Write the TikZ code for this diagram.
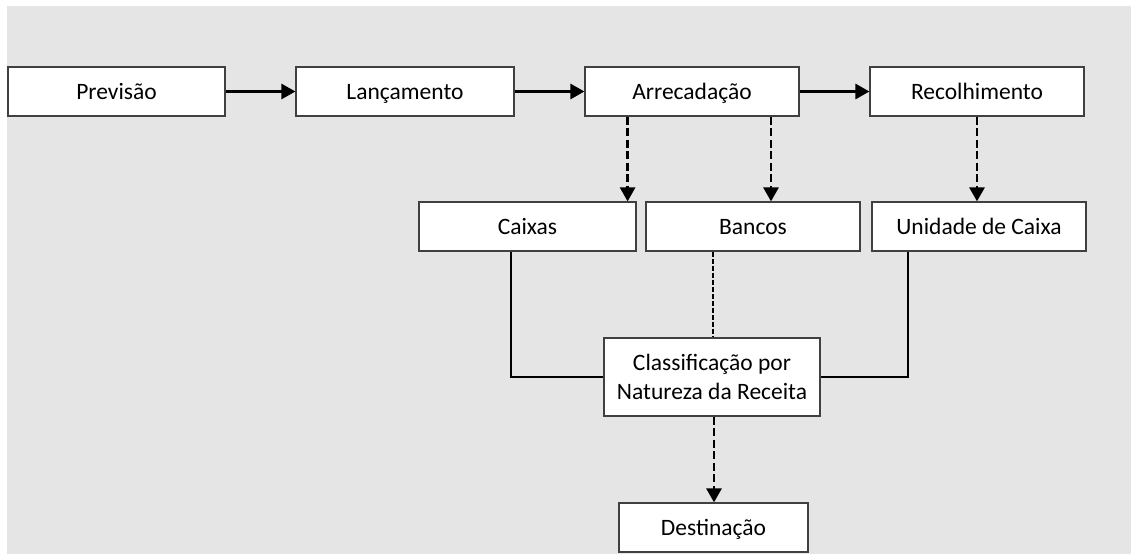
\documentclass[tikz,border=0pt]{standalone}
\usepackage{fontspec}
\setmainfont{Carlito}
\usetikzlibrary{arrows.meta}
\begin{document}
\begin{tikzpicture}[x=1pt,y=-1pt,
  box/.style={draw=black!75,line width=1.2pt,fill=white,inner sep=0pt,font=\fontsize{23.5}{29}\selectfont,align=center,text height=19pt,text depth=3.5pt},
  mbox/.style={draw=black!75,line width=1.2pt,fill=white,inner sep=0pt,font=\fontsize{23.5}{29.3}\selectfont,align=center},
  flow/.style={line width=2.8pt,-{Triangle[length=14pt,width=15pt]}},
  dflow/.style={line width=2.8pt,dash pattern=on 8pt off 3.5pt,-{Triangle[length=14pt,width=15pt]}},
  link/.style={line width=1.3pt},
  dlink/.style={line width=1.3pt,dash pattern=on 5pt off 2pt}]
\useasboundingbox (0,0) rectangle (1131,554);
\fill[white] (0,0) rectangle (1131,554);
\fill[black!10] (7,6) rectangle (1131,554);
\node[box,minimum width=217pt,minimum height=49pt] (prev) at (116.5,91.5) {Previsão};
\node[box,minimum width=218pt,minimum height=49pt] (lanc) at (405,91.5) {Lançamento};
\node[box,minimum width=214pt,minimum height=49pt] (arre) at (692,91.5) {Arrecadação};
\node[box,minimum width=214pt,minimum height=49pt] (reco) at (977,91.5) {Recolhimento};
\node[box,minimum width=217pt,minimum height=49pt] (caix) at (527.5,226.5) {Caixas};
\node[box,minimum width=214pt,minimum height=49pt] (banc) at (753,226.5) {Bancos};
\node[box,minimum width=214pt,minimum height=49pt] (unid) at (979,226.5) {Unidade de Caixa};
\node[mbox,minimum width=216pt,minimum height=78pt] (clas) at (712,377) {Classificação por\\Natureza da Receita};
\node[box,minimum width=189pt,minimum height=49pt] (dest) at (713.5,527.5) {Destinação};
\draw[flow] (prev.east) -- (lanc.west);
\draw[flow] (lanc.east) -- (arre.west);
\draw[flow] (arre.east) -- (reco.west);
\draw[dflow] (arre.south -| caix.north east) ++(-9,0) coordinate (a1) -- (a1 |- caix.north);
\draw[dflow] (arre.south -| banc.north) ++(18,0) coordinate (a2) -- (a2 |- banc.north);
\draw[dflow] (reco.south) -- (reco.south |- unid.north);
\draw[link] (caix.south) ++(-16.5,0) coordinate (c1) |- (clas.west);
\draw[link] (unid.south) ++(-71,0) coordinate (u1) |- (clas.east);
\draw[dlink] (banc.south) ++(-40,0) coordinate (b1) -- (b1 |- clas.north);
\draw[dflow] (clas.south) ++(2,0) coordinate (k1) -- (k1 |- dest.north);
\end{tikzpicture}
\end{document}
